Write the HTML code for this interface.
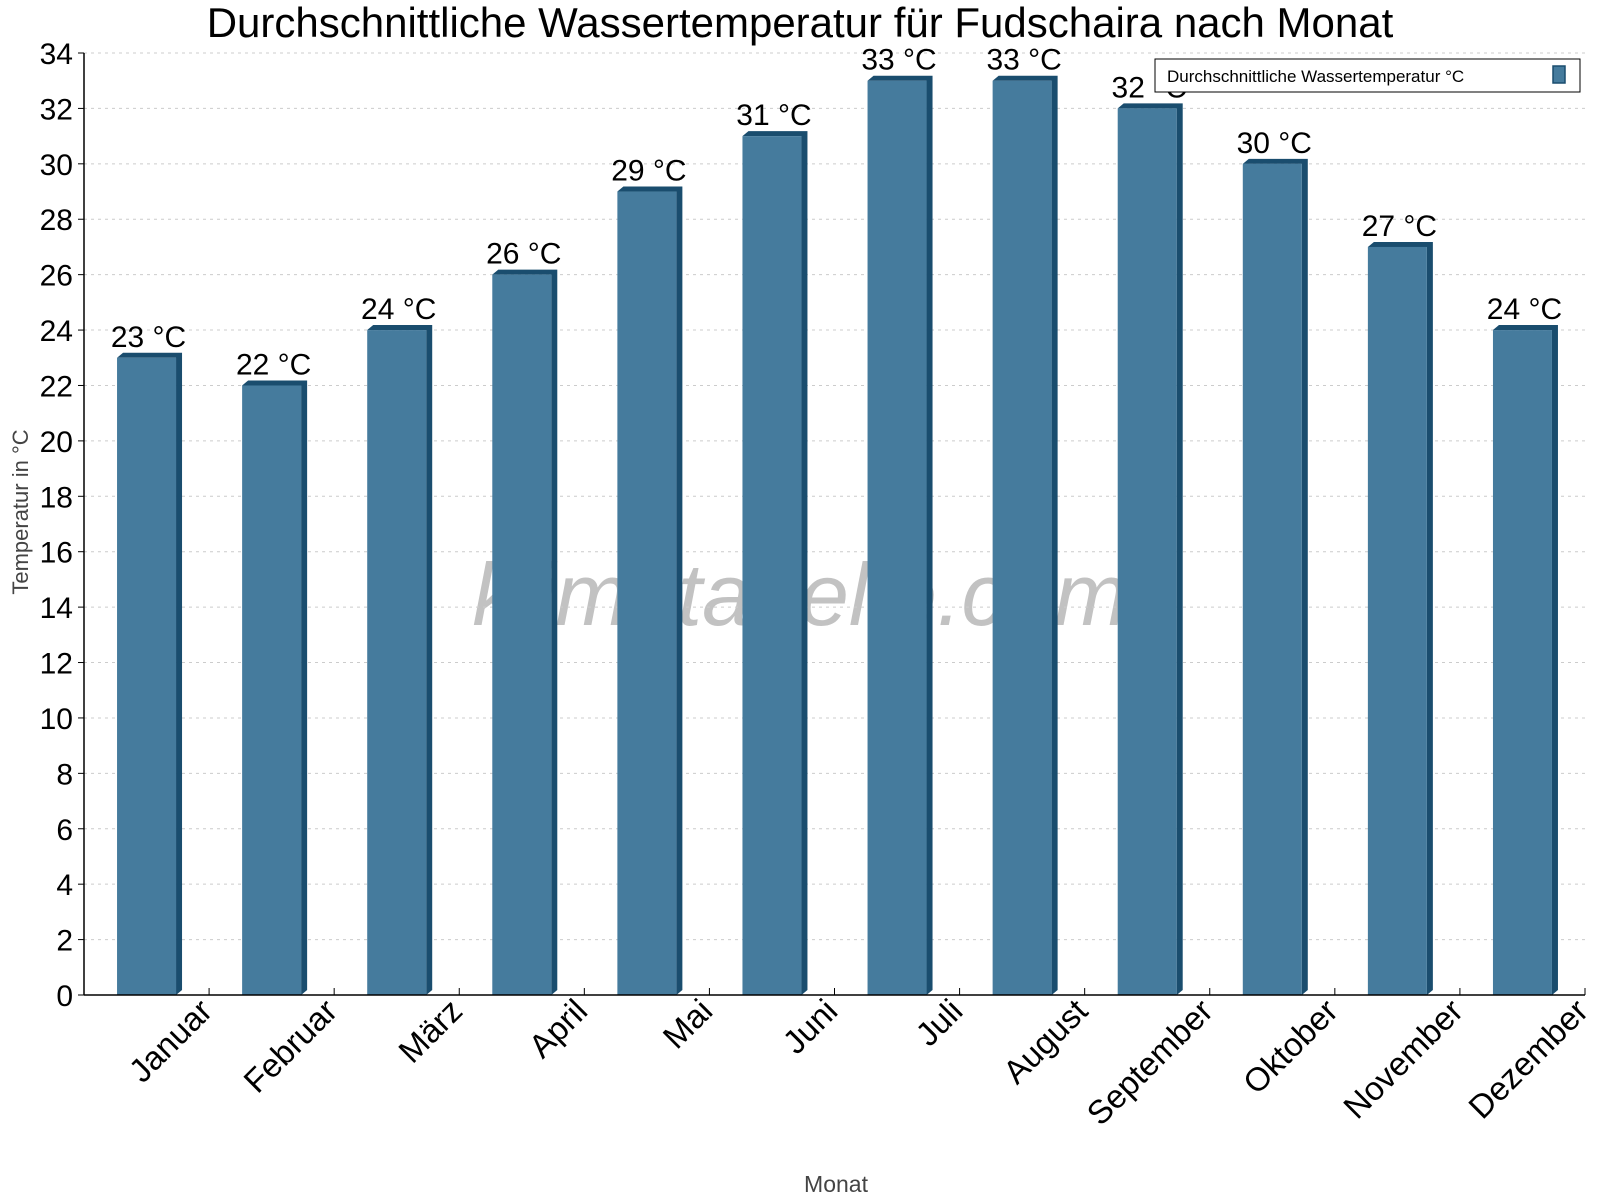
<!DOCTYPE html>
<html><head><meta charset="utf-8"><style>
body{margin:0;background:#fff}
svg{display:block;font-family:"Liberation Sans",sans-serif}
</style></head><body>
<svg id="chart" width="1600" height="1200" viewBox="0 0 1600 1200" xmlns="http://www.w3.org/2000/svg">
<text x="800" y="37" text-anchor="middle" font-size="42">Durchschnittliche Wassertemperatur für Fudschaira nach Monat</text>
<text x="800" y="625" text-anchor="middle" font-size="88" font-style="italic" fill="#999" fill-opacity="0.6">klimatabelle.com</text>
<g id="grid"></g><g id="bars"></g><g id="axes"></g>
<text transform="translate(28,512) rotate(-90)" text-anchor="middle" font-size="22" fill="#444">Temperatur in °C</text>
<text x="836" y="1192" text-anchor="middle" font-size="23" fill="#444">Monat</text>
<g>
<rect x="1155" y="59" width="425" height="33" fill="#fff" stroke="#000" stroke-width="1"/>
<text x="1167" y="82" font-size="17">Durchschnittliche Wassertemperatur °C</text>
<rect x="1553" y="66" width="12" height="17" fill="#457b9d" stroke="#1a4d6e" stroke-width="1.5"/>
</g>
</svg>
<script>
const months=["Januar","Februar","März","April","Mai","Juni","Juli","August","September","Oktober","November","Dezember"];
const temps=[23,22,24,26,29,31,33,33,32,30,27,24];
const yTicks=[0,2,4,6,8,10,12,14,16,18,20,22,24,26,28,30,32,34];
const NS="http://www.w3.org/2000/svg";
const x0=84,x1=1585,yBase=995,yTop=53,yMax=34;
const bw=(x1-x0)/months.length;
const y=v=>yBase-(yBase-yTop)*v/yMax;
const xc=i=>x0+bw*(i+0.5);
function mk(tag,attrs,parent,txt){const e=document.createElementNS(NS,tag);for(const k in attrs)e.setAttribute(k,attrs[k]);if(txt!==undefined)e.textContent=txt;parent.appendChild(e);return e;}
const grid=document.getElementById('grid'),bars=document.getElementById('bars'),axes=document.getElementById('axes');
yTicks.forEach(t=>{
  if(t>0){const g=mk('line',{x1:x0,x2:x1,y1:y(t),y2:y(t),stroke:'#ccc','stroke-dasharray':'3,4'},grid);
  
  }
  const tk=mk('line',{x1:x0-6,x2:x0,y1:y(t),y2:y(t),stroke:'#000'},axes);
  
  
  const l=mk('text',{x:x0-11,y:y(t)+11,'text-anchor':'end','font-size':30},axes,String(t));
  
  
});
const fw=59,d=6;
temps.forEach((v,i)=>{
  const g=mk('g',{},bars);
  
  
  const L=xc(i)-fw/2,T=y(v);
  mk('polygon',{points:`${L},${T} ${L+d},${T-5} ${L+fw+d},${T-5} ${L+fw+d},${yBase-5} ${L+fw},${yBase} ${L+fw},${T}`,fill:'#1a4d6e'},g);
  mk('rect',{x:L,y:T,width:fw,height:yBase-T,fill:'#457b9d'},g);
  const lb=mk('text',{x:xc(i)+2,y:T-11,'text-anchor':'middle','font-size':30},bars,v+' °C');
  
  
  const tk=mk('line',{x1:x0+bw*(i+1),x2:x0+bw*(i+1),y1:yBase,y2:yBase-7,stroke:'#000'},axes);
  
  
  const xl=mk('text',{transform:`translate(${x0+bw*(i+1)+5},${yBase+18}) rotate(-45)`,'text-anchor':'end','font-size':33},axes,months[i]);
  
  
});
const ya=mk('line',{x1:x0,x2:x0,y1:yTop,y2:yBase,stroke:'#000','stroke-width':1.5},axes);


const xa=mk('line',{x1:x0,x2:x1,y1:yBase,y2:yBase,stroke:'#000','stroke-width':1.5},axes);


</script>
</body></html>
